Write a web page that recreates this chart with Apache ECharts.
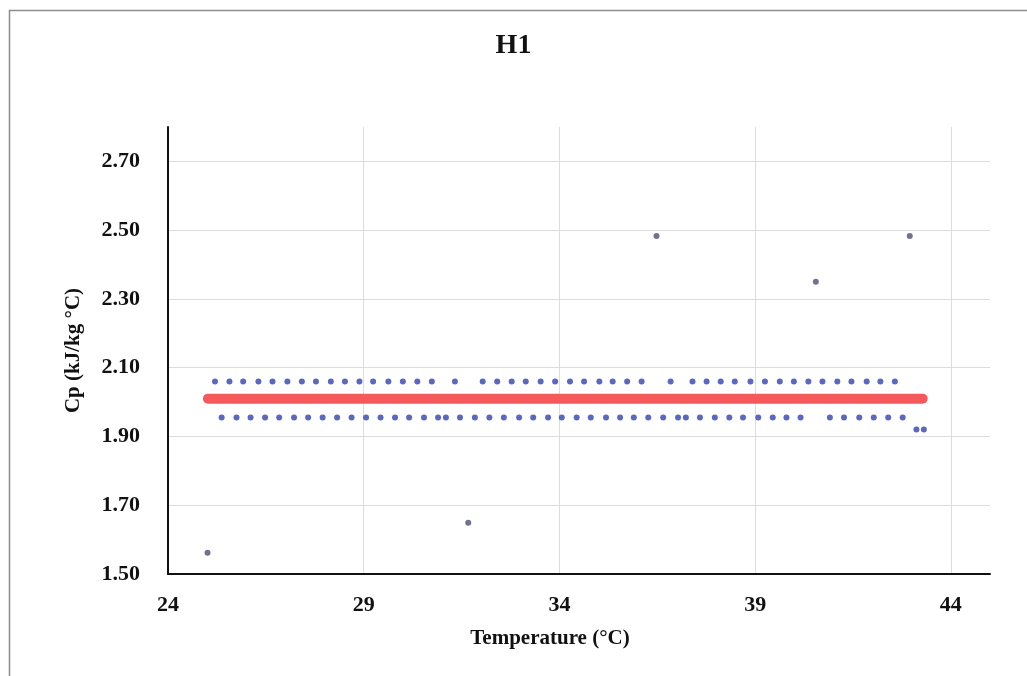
<!DOCTYPE html>
<html lang="en">
<head>
    <meta charset="UTF-8">
    <title>H1</title>
    <script src="https://cdn.jsdelivr.net/npm/echarts@6/dist/echarts.min.js"></script>
    <style>
        html, body { margin: 0; padding: 0; background: #fff; }
        #main { width: 1027px; height: 676px; }
    </style>
</head>
<body>
<div id="main"></div>
<script>
    // measured points, [temperature °C, Cp kJ/kg°C]
    var upperRow = [
        [25.20, 2.06], [25.57, 2.06], [25.92, 2.06], [26.31, 2.06], [26.67, 2.06], [27.05, 2.06],
        [27.42, 2.06], [27.78, 2.06], [28.16, 2.06], [28.52, 2.06], [28.89, 2.06], [29.24, 2.06],
        [29.63, 2.06], [30.00, 2.06], [30.37, 2.06], [30.74, 2.06], [31.33, 2.06], [32.04, 2.06],
        [32.41, 2.06], [32.78, 2.06], [33.14, 2.06], [33.52, 2.06], [33.89, 2.06], [34.27, 2.06],
        [34.63, 2.06], [35.02, 2.06], [35.36, 2.06], [35.73, 2.06], [36.10, 2.06], [36.84, 2.06],
        [37.40, 2.06], [37.76, 2.06], [38.12, 2.06], [38.48, 2.06], [38.88, 2.06], [39.25, 2.06],
        [39.63, 2.06], [39.99, 2.06], [40.36, 2.06], [40.72, 2.06], [41.10, 2.06], [41.46, 2.06],
        [41.85, 2.06], [42.20, 2.06], [42.57, 2.06]
    ];
    var lowerRow = [
        [25.37, 1.955], [25.75, 1.955], [26.11, 1.955], [26.48, 1.955], [26.84, 1.955], [27.22, 1.955],
        [27.58, 1.955], [27.95, 1.955], [28.32, 1.955], [28.69, 1.955], [29.06, 1.955], [29.43, 1.955],
        [29.80, 1.955], [30.16, 1.955], [30.54, 1.955], [30.90, 1.955], [31.10, 1.955], [31.46, 1.955],
        [31.84, 1.955], [32.21, 1.955], [32.58, 1.955], [32.97, 1.955], [33.33, 1.955], [33.71, 1.955],
        [34.06, 1.955], [34.44, 1.955], [34.80, 1.955], [35.19, 1.955], [35.55, 1.955], [35.90, 1.955],
        [36.27, 1.955], [36.65, 1.955], [37.03, 1.955], [37.23, 1.955], [37.59, 1.955], [37.97, 1.955],
        [38.34, 1.955], [38.69, 1.955], [39.08, 1.955], [39.45, 1.955], [39.80, 1.955], [40.16, 1.955],
        [40.91, 1.955], [41.27, 1.955], [41.66, 1.955], [42.03, 1.955], [42.40, 1.955], [42.77, 1.955],
        [43.12, 1.92], [43.31, 1.92]
    ];
    var outliers = [
        [25.01, 1.562], [31.67, 1.649], [36.48, 2.483], [40.55, 2.35], [42.95, 2.483]
    ];
    // mean Cp band
    var meanLine = [[25.02, 2.01], [43.28, 2.01]];

    var xTicks = {min: 24, max: 45, interval: 5};
    var yTicks = {min: 1.5, max: 2.8, interval: 0.2};

    var serif = 'Liberation Serif';
    var myChart = echarts.init(document.getElementById('main'));
    var option = {
        backgroundColor: '#fff',
        animation: false,
        title: {
            text: 'H1',
            left: 'center',
            top: 27,
            textStyle: {fontFamily: serif, fontWeight: 'bold', fontSize: 28, color: '#111'}
        },
        graphic: [{
            type: 'rect',
            shape: {x: 9.5, y: 10.5, width: 1100, height: 800},
            style: {fill: 'none', stroke: '#8c8c8c', lineWidth: 1.5},
            silent: true
        }],
        grid: {left: 168, right: 37, top: 127, bottom: 102},
        xAxis: {
            type: 'value',
            min: xTicks.min, max: xTicks.max, interval: xTicks.interval,
            name: 'Temperature (°C)',
            nameLocation: 'middle',
            nameGap: 54,
            nameTextStyle: {fontFamily: serif, fontWeight: 'bold', fontSize: 21, color: '#111', padding: [0, 58, 0, 0]},
            axisLine: {lineStyle: {color: '#111', width: 2}},
            axisTick: {show: false},
            axisLabel: {
                fontFamily: serif, fontWeight: 'bold', fontSize: 22, color: '#111', margin: 20,
                formatter: function (v) { return v > 44.5 ? '' : v; }
            },
            splitLine: {show: true, showMinLine: false, showMaxLine: false, lineStyle: {color: '#dcdcdc', width: 1}}
        },
        yAxis: {
            type: 'value',
            min: yTicks.min, max: yTicks.max, interval: yTicks.interval,
            name: 'Cp (kJ/kg °C)',
            nameLocation: 'middle',
            nameGap: 84,
            nameTextStyle: {fontFamily: serif, fontWeight: 'bold', fontSize: 21, color: '#111'},
            axisLine: {show: true, lineStyle: {color: '#111', width: 2}},
            axisTick: {show: false},
            axisLabel: {
                fontFamily: serif, fontWeight: 'bold', fontSize: 22, color: '#111', margin: 28,
                formatter: function (v) { return v > 2.75 ? '' : v.toFixed(2); }
            },
            splitLine: {show: true, showMinLine: false, showMaxLine: false, lineStyle: {color: '#dcdcdc', width: 1}}
        },
        series: [
            {
                name: 'mean', type: 'line', data: meanLine, showSymbol: false, z: 1,
                lineStyle: {color: '#f45a5c', width: 10, cap: 'round'}
            },
            {
                name: 'upper', type: 'scatter', data: upperRow, symbolSize: 6, z: 3,
                itemStyle: {color: '#3342a8'}
            },
            {
                name: 'lower', type: 'scatter', data: lowerRow, symbolSize: 6, z: 3,
                itemStyle: {color: '#3342a8'}
            },
            {
                name: 'outliers', type: 'scatter', data: outliers, symbolSize: 6, z: 3,
                itemStyle: {color: '#4e5072'}
            }
        ]
    };
    myChart.setOption(option);
</script>
</body>
</html>
